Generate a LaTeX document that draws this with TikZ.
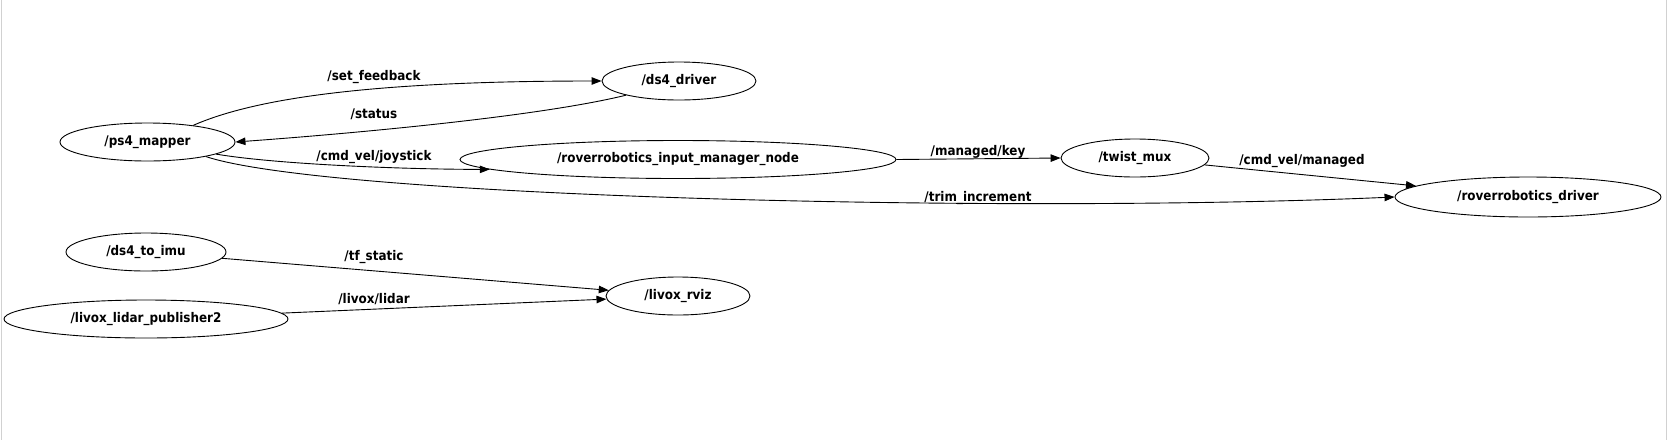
\documentclass[tikz,border=0pt]{standalone}
\usepackage{fontspec}
\setmainfont{DejaVu Sans}[FakeStretch=0.9]
\usepackage{tikz}
\usetikzlibrary{positioning, arrows.meta, shapes.geometric}

\begin{document}
\begin{tikzpicture}[
    x=1pt, y=-1pt,
    rosnode/.style={ellipse, draw=black, line width=0.9pt, inner sep=0pt, minimum height=38pt, font=\fontsize{13.3}{16}\selectfont\bfseries},
    topic/.style={draw=black, line width=0.9pt, -{Triangle[length=10pt, width=7.5pt]}},
    topiclabel/.style={inner sep=0pt, font=\fontsize{13.3}{16}\selectfont\bfseries},
]
\useasboundingbox (0,0) rectangle (1667,440);
\draw[black!18, line width=1pt] (1.5,0) -- (1.5,440);
\draw[black!18, line width=1pt] (1666,0) -- (1666,440);

\node[rosnode, minimum width=175pt](ps4) at (147.5,142){/ps4\_mapper};
\node[rosnode, minimum width=154pt](ds4) at (679,81){/ds4\_driver};
\node[rosnode, minimum width=436pt](inmgr) at (678,159.5){/roverrobotics\_input\_manager\_node};
\node[rosnode, minimum width=148pt](twist) at (1135,158){/twist\_mux};
\node[rosnode, minimum width=266pt, minimum height=40pt](rdriver) at (1528,197){/roverrobotics\_driver};
\node[rosnode, minimum width=160pt](imu) at (146,252){/ds4\_to\_imu};
\node[rosnode, minimum width=284pt](lidarpub) at (146,319){/livox\_lidar\_publisher2};
\node[rosnode, minimum width=144pt](rviz) at (678,296){/livox\_rviz};

\draw[topic] (ps4.20) .. controls +(57,-25) and +(-242,0) .. (ds4.west);
\draw[topic] (ds4.195) .. controls +(-90,22) and +(110,-8) .. (ps4.east);
\draw[topic] (ps4.-10) .. controls +(59,10) and +(-88,0) .. (inmgr.183);
\draw[topic] (ps4.-14) .. controls +(120,40) and +(-400,17) .. (rdriver.west);
\draw[topic] (inmgr.east) -- (twist.west);
\draw[topic] (twist) -- (rdriver);
\draw[topic] (imu) -- (rviz);
\draw[topic] (lidarpub) -- (rviz);

\node[topiclabel](l_feedback) at (374,77){/set\_feedback};
\node[topiclabel](l_status) at (374,114){/status};
\node[topiclabel](l_joystick) at (374,157.5){/cmd\_vel/joystick};
\node[topiclabel](l_trim) at (978,198.5){/trim\_increment};
\node[topiclabel](l_key) at (978,151.5){/managed/key};
\node[topiclabel](l_managed) at (1302,161){/cmd\_vel/managed};
\node[topiclabel](l_tf) at (374,257.5){/tf\_static};
\node[topiclabel](l_lidar) at (374,299){/livox/lidar};
\end{tikzpicture}
\end{document}
